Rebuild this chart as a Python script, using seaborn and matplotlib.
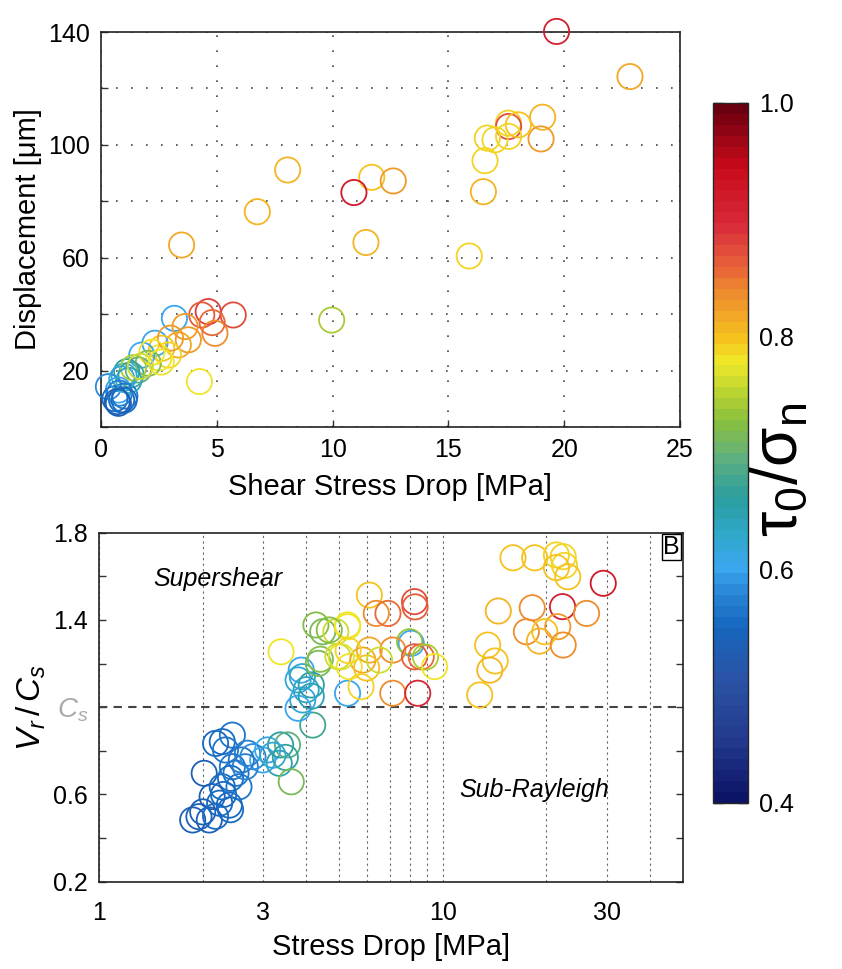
import numpy as np
import pandas as pd
import matplotlib
matplotlib.use("Agg")
import matplotlib.pyplot as plt
import seaborn as sns
from matplotlib.colors import LinearSegmentedColormap, ListedColormap, Normalize
from matplotlib.cm import ScalarMappable
from matplotlib.ticker import FixedLocator, NullFormatter

# ---------------- data ----------------
# Top panel: shear stress drop [MPa], displacement [um], tau0/sigma_n
top_x = [8.06, 6.75, 3.48, 11.69, 12.62, 10.92, 11.44, 9.96, 4.25, 19.67, 22.84,
         19.07, 19.0, 17.59, 17.6, 18.02, 17.6, 17.01, 16.68, 16.58, 16.51, 15.9,
         3.17, 4.63, 4.35, 5.71, 4.92, 4.8, 3.63, 3.77, 3.34, 2.33, 2.62, 2.91, 2.5,
         1.76, 2.04, 1.61, 1.11, 1.0, 1.3, 0.32, 0.75, 0.89, 0.75, 1.03, 0.6,
         3.0, 2.2, 1.4, 1.2, 0.9, 1.7, 2.6, 0.8, 1.0, 0.7]
top_y = [91.1, 76.3, 64.5, 88.5, 87.2, 83.1, 65.4, 37.9, 16.1, 140.2, 124.2,
         109.8, 102.1, 107.7, 106.5, 107.1, 103.0, 101.8, 102.4, 94.4, 83.4, 60.6,
         38.5, 40.9, 39.7, 39.7, 33.2, 37.0, 35.6, 30.9, 29.1, 29.7, 27.9, 25.5, 24.5,
         25.5, 22.6, 20.2, 19.6, 18.0, 18.5, 14.3, 13.1, 9.6, 8.4, 11.0, 10.0,
         31.5, 26.5, 21.0, 16.5, 17.0, 21.5, 23.0, 12.0, 9.5, 9.0]
top_c = [0.81, 0.81, 0.82, 0.80, 0.83, 0.92, 0.81, 0.74, 0.78, 0.91, 0.82,
         0.81, 0.83, 0.79, 0.87, 0.80, 0.79, 0.79, 0.79, 0.79, 0.81, 0.79,
         0.60, 0.88, 0.86, 0.87, 0.84, 0.85, 0.83, 0.83, 0.82, 0.60, 0.80, 0.79, 0.78,
         0.60, 0.72, 0.70, 0.66, 0.63, 0.68, 0.58, 0.60, 0.55, 0.54, 0.56, 0.55,
         0.83, 0.78, 0.74, 0.64, 0.62, 0.76, 0.78, 0.57, 0.55, 0.54]

# Bottom panel: stress drop [MPa], Vr/Cs, tau0/sigma_n
bot_x = [2.44, 2.28, 2.33, 2.70, 2.99, 2.59, 2.44, 2.02, 2.41, 2.28, 2.13, 2.39, 1.95,
         1.87, 2.09, 2.18, 2.41, 2.24, 2.55, 2.50, 2.66, 2.80, 2.18, 2.0, 2.3,
         3.09, 3.37, 3.53, 3.48, 3.34, 3.62, 4.18, 3.2,
         3.38, 4.27, 4.47, 4.88, 5.28, 3.87, 3.79, 3.90, 4.14, 4.00, 3.79, 3.91, 4.14,
         4.34, 4.40, 5.28, 4.95, 5.34,
         6.11, 6.40, 6.92, 8.27, 8.30, 8.09, 8.00, 7.15, 8.27, 8.65, 8.90, 9.46, 6.11,
         5.85, 6.00, 5.78, 6.54, 7.15, 8.45, 5.28, 5.06, 5.30, 4.67,
         16.0, 18.5, 21.4, 22.4, 22.6, 21.4, 23.1, 29.3, 22.3, 18.2, 14.5, 26.2, 21.6,
         17.5, 19.8, 19.1, 22.4, 13.5, 14.2, 13.7, 12.8]
bot_y = [0.872, 0.842, 0.804, 0.789, 0.758, 0.758, 0.727, 0.697, 0.674, 0.635, 0.590,
         0.551, 0.498, 0.483, 0.483, 0.500, 0.530, 0.560, 0.635, 0.697, 0.727, 0.773,
         0.834, 0.52, 0.60,
         0.804, 0.827, 0.827, 0.770, 0.743, 0.658, 0.918, 0.78,
         1.254, 1.377, 1.346, 1.346, 1.377, 1.170, 1.125, 1.140, 1.102, 1.080, 0.995,
         1.033, 1.050, 1.201, 1.220, 1.064, 1.232, 1.186,
         1.514, 1.430, 1.430, 1.484, 1.460, 1.293, 1.300, 1.262, 1.231, 1.231, 1.230,
         1.186, 1.262, 1.216, 1.180, 1.094, 1.216, 1.064, 1.064, 1.369, 1.231, 1.260,
         1.354,
         1.685, 1.685, 1.698, 1.690, 1.650, 1.640, 1.598, 1.568, 1.461, 1.456, 1.441,
         1.430, 1.369, 1.346, 1.346, 1.303, 1.285, 1.285, 1.212, 1.170, 1.056]
bot_c = [0.56, 0.55, 0.56, 0.57, 0.60, 0.56, 0.56, 0.54, 0.55, 0.55, 0.54, 0.55, 0.54,
         0.54, 0.54, 0.55, 0.55, 0.55, 0.56, 0.56, 0.57, 0.58, 0.55, 0.54, 0.55,
         0.60, 0.66, 0.70, 0.67, 0.65, 0.71, 0.68, 0.63,
         0.78, 0.72, 0.71, 0.76, 0.78, 0.60, 0.62, 0.63, 0.66, 0.64, 0.60, 0.62, 0.65,
         0.71, 0.72, 0.60, 0.76, 0.78,
         0.80, 0.84, 0.85, 0.87, 0.86, 0.60, 0.73, 0.84, 0.86, 0.85, 0.74, 0.78, 0.82,
         0.82, 0.80, 0.79, 0.76, 0.84, 0.90, 0.78, 0.77, 0.79, 0.72,
         0.80, 0.80, 0.79, 0.79, 0.79, 0.80, 0.80, 0.92, 0.91, 0.84, 0.81, 0.84, 0.83,
         0.84, 0.80, 0.81, 0.84, 0.80, 0.80, 0.81, 0.80]

top_xticks = [0, 5, 10, 15, 20, 25]
top_yticks = [20, 60, 100, 140]
bot_xticks = [1, 3, 10, 30]
bot_xticklabels = ["1", "3", "10", "30"]
bot_yticks = [0.2, 0.6, 1.0, 1.4, 1.8]
cbar_ticks = [0.4, 0.6, 0.8, 1.0]

# ---------------- colormap ----------------
anchors = [(0.000, "#0c1466"), (0.083, "#233a8e"), (0.167, "#2a52a4"),
           (0.250, "#1568c0"), (0.300, "#2a88d8"), (0.333, "#3aa6ee"),
           (0.383, "#2ea8c8"), (0.433, "#2a9ea0"), (0.500, "#66b27a"),
           (0.550, "#8cc03a"), (0.600, "#c8da30"), (0.633, "#f0e828"),
           (0.667, "#f5c21e"), (0.733, "#ee8a2e"), (0.783, "#e6583a"),
           (0.833, "#d82a3a"), (0.917, "#c80a1a"), (1.000, "#6a0010")]
base = LinearSegmentedColormap.from_list("tau", anchors)
cmap = ListedColormap(base(np.linspace(0, 1, 64)))
norm = Normalize(0.4, 1.0)

sns.set_theme(style="white")
plt.rcParams["font.family"] = ["Liberation Sans", "DejaVu Sans"]
plt.rcParams["mathtext.fontset"] = "custom"
plt.rcParams["mathtext.it"] = "Liberation Sans:italic"
plt.rcParams["mathtext.rm"] = "Liberation Sans"
plt.rcParams["text.color"] = "black"
plt.rcParams["axes.labelcolor"] = "black"
plt.rcParams["xtick.color"] = "black"
plt.rcParams["ytick.color"] = "black"

TICK = 18
LAB = 21

fig = plt.figure(figsize=(8.42, 9.69), dpi=100)
fig.patch.set_facecolor("white")

ax1 = fig.add_axes([101 / 842, 1 - 427 / 969, (680 - 101) / 842, (427 - 32) / 969])
ax2 = fig.add_axes([99.3 / 842, 1 - 881.7 / 969, (683 - 99.3) / 842, (881.7 - 532.7) / 969])
cax = fig.add_axes([713 / 842, 1 - 803 / 969, 35 / 842, 700 / 969])


def open_circles(ax, x, y, c):
    df = pd.DataFrame({"x": x, "y": y, "c": c})
    sns.scatterplot(data=df, x="x", y="y", hue="c", palette=cmap, hue_norm=(0.4, 1.0),
                    s=330, legend=False, ax=ax, linewidth=1.3, clip_on=False, zorder=3)
    coll = ax.collections[-1]
    fc = coll.get_facecolors()
    coll.set_edgecolors(fc)
    coll.set_facecolors("none")


# ---------------- top panel ----------------
open_circles(ax1, top_x, top_y, top_c)
ax1.set_xlim(0, 25)
ax1.set_ylim(0, 140)
ax1.set_xticks(top_xticks)
ax1.set_yticks(np.arange(0, 141, 20), minor=False)
ax1.set_yticklabels(["" if v not in top_yticks else str(v) for v in range(0, 141, 20)])
ax1.grid(True, linestyle=(0, (1, 8)), color="#444444", linewidth=1.2)
ax1.set_xlabel("Shear Stress Drop [MPa]", fontsize=LAB, labelpad=8)
ax1.set_ylabel("Displacement [\u03bcm]", fontsize=LAB, labelpad=4)
ax1.tick_params(direction="in", length=5, width=1, labelsize=TICK, color="#333333",
                labelcolor="black", left=True, bottom=True, top=False, right=False, pad=8)

# ---------------- bottom panel ----------------
open_circles(ax2, bot_x, bot_y, bot_c)
ax2.set_xscale("log")
ax2.set_xlim(1, 50)
ax2.set_ylim(0.2, 1.8)
ax2.xaxis.set_major_locator(FixedLocator(bot_xticks))
ax2.set_xticklabels(bot_xticklabels)
ax2.xaxis.set_minor_locator(FixedLocator([2, 4, 5, 6, 7, 8, 9, 20, 40]))
ax2.xaxis.set_minor_formatter(NullFormatter())
ax2.grid(True, which="both", axis="x", linestyle=(0, (2, 3)), color="#666666", linewidth=0.8)
ax2.grid(False, axis="y")
ax2.axhline(1.0, color="#444444", linestyle=(0, (4, 3)), linewidth=1.5, zorder=2)
yt = np.round(np.arange(0.2, 1.81, 0.2), 1)
ax2.set_yticks(yt)
labels = []
for v in yt:
    if abs(v - 1.0) < 1e-6:
        labels.append("$C_s$")
    elif any(abs(v - t) < 1e-6 for t in bot_yticks):
        labels.append(f"{v:.1f}")
    else:
        labels.append("")
ax2.set_yticklabels(labels)
ax2.tick_params(axis="y", direction="in", length=5, width=1, labelsize=TICK, left=True,
                right=True, color="#333333", labelcolor="black", pad=8)
ax2.tick_params(axis="x", which="both", length=0, labelsize=TICK, labelcolor="black", pad=14)
for lab in ax2.get_yticklabels():
    if lab.get_text() == "$C_s$":
        lab.set_color("#aaaaaa")
        lab.set_fontsize(20)
ax2.set_xlabel("Stress Drop [MPa]", fontsize=LAB, labelpad=6)
ax2.set_ylabel("$V_r\\,/\\,C_s$", fontsize=24, labelpad=4)
ax2.text(2.22, 1.59, "Supershear", style="italic", fontsize=18, ha="center", va="center")
ax2.text(18.5, 0.62, "Sub-Rayleigh", style="italic", fontsize=18, ha="center", va="center")
ax2.text(0.995, 0.993, "B", transform=ax2.transAxes, ha="right", va="top", fontsize=18,
         bbox=dict(boxstyle="square,pad=0.05", fc="white", ec="black", lw=1))

for ax in (ax1, ax2):
    ax.set_facecolor("white")
    for sp in ax.spines.values():
        sp.set_visible(True)
        sp.set_color("#222222")
        sp.set_linewidth(1.2)

# ---------------- colorbar ----------------
sm = ScalarMappable(norm=norm, cmap=cmap)
cb = fig.colorbar(sm, cax=cax, ticks=[0.4, 0.5, 0.6, 0.7, 0.8, 0.9, 1.0])
cb.ax.set_yticklabels(["0.4", "", "0.6", "", "0.8", "", "1.0"])
cb.ax.tick_params(direction="in", length=7, width=1, left=True, right=True,
                  labelsize=TICK, color="#222222", labelcolor="black", pad=8)
cb.outline.set_linewidth(1.0)
fig.text(780 / 842, 1 - 470 / 969, "\u03c4$_\\mathrm{0}$/\u03c3$_\\mathrm{n}$", rotation=90,
         fontsize=46, ha="center", va="center")

fig.savefig("out.png", dpi=100, facecolor="white")
